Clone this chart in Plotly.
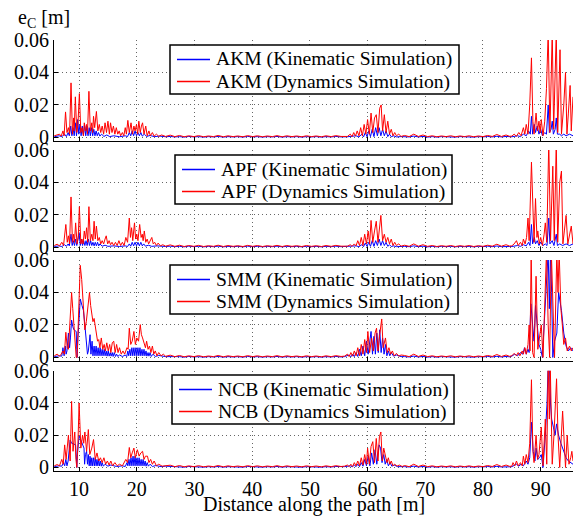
import plotly.graph_objects as go

# ---------------- axes / labels ----------------
X_RANGE = [5.65, 95.6]
Y_RANGE = [-0.0022, 0.06]
X_TICKS = [10, 20, 30, 40, 50, 60, 70, 80, 90]
Y_TICKS = [0, 0.02, 0.04, 0.06]
Y_TICK_TEXT = ["0", "0.02", "0.04", "0.06"]
METHODS = ["AKM", "APF", "SMM", "NCB"]
KIN_LABEL = "(Kinematic Simulation)"
DYN_LABEL = "(Dynamics Simulation)"
X_TITLE = "Distance along the path [m]"
Y_TITLE = "e<sub>C</sub> [m]"

# ---------------- shared quiet stretches (x, kinematic, dynamics) ----------------
QUIET_A_X = [25.8, 26.6, 27.4, 28.2, 29.0, 29.9, 30.7, 31.6, 32.4, 33.3, 34.1, 35.0,
             35.8, 36.7, 37.5, 38.4, 39.2, 40.1, 40.9, 41.8, 42.6, 43.5, 44.3, 45.2,
             46.0, 46.9, 47.7, 48.6, 49.4, 50.3, 51.1, 52.0, 52.8, 53.7, 54.5, 55.4]
QUIET_A_DYN = [0.0014, 0.0005, 0.0012, 0.0004, 0.0010, 0.0005, 0.0011, 0.0004, 0.0009, 0.0005, 0.0012, 0.0004,
               0.0010, 0.0005, 0.0009, 0.0004, 0.0011, 0.0005, 0.0010, 0.0004, 0.0009, 0.0005, 0.0011, 0.0004,
               0.0010, 0.0005, 0.0009, 0.0004, 0.0010, 0.0005, 0.0009, 0.0004, 0.0010, 0.0005, 0.0011, 0.0006]
QUIET_A_KIN = [0.0006, 0.0003, 0.0005, 0.0002, 0.0006, 0.0003, 0.0005, 0.0002, 0.0005, 0.0003, 0.0006, 0.0002,
               0.0005, 0.0003, 0.0005, 0.0002, 0.0006, 0.0003, 0.0005, 0.0002, 0.0005, 0.0003, 0.0006, 0.0002,
               0.0005, 0.0003, 0.0005, 0.0002, 0.0005, 0.0003, 0.0005, 0.0002, 0.0005, 0.0003, 0.0006, 0.0003]
QUIET_B_X = [66.4, 67.2, 68.0, 68.8, 69.6, 70.4, 71.2, 72.0, 72.8, 73.6, 74.4, 75.2,
             76.0, 76.8, 77.6, 78.4, 79.2, 80.0, 80.8, 81.6, 82.4, 83.2, 84.0, 84.6]
QUIET_B_DYN = [0.0012, 0.0005, 0.0020, 0.0006, 0.0015, 0.0005, 0.0010, 0.0004, 0.0009, 0.0005, 0.0010, 0.0004,
               0.0009, 0.0005, 0.0010, 0.0004, 0.0009, 0.0005, 0.0012, 0.0006, 0.0018, 0.0006, 0.0015, 0.0007]
QUIET_B_KIN = [0.0005, 0.0003, 0.0008, 0.0003, 0.0006, 0.0002, 0.0005, 0.0002, 0.0005, 0.0003, 0.0005, 0.0002,
               0.0005, 0.0003, 0.0005, 0.0002, 0.0005, 0.0003, 0.0006, 0.0003, 0.0007, 0.0003, 0.0006, 0.0004]

# ---------------- AKM ----------------
AKM_DYN_LEFT = [(5.7, 0.001), (6.2, 0.0015), (6.6, 0.002), (6.9, 0.0008), (7.2, 0.004), (7.4, 0.001),
    (7.65, 0.0157), (7.9, 0.003), (8.15, 0.006), (8.35, 0.002), (8.6, 0.0336), (8.85, 0.002), (9.05, 0.012),
    (9.15, 0.004), (9.35, 0.025), (9.6, 0.003), (9.8, 0.008), (10.05, 0.027), (10.3, 0.003), (10.5, 0.006),
    (10.75, 0.001), (10.9, 0.009), (11.1, 0.004), (11.3, 0.008), (11.45, 0.002), (11.7, 0.0284), (11.95, 0.004),
    (12.2, 0.009), (12.35, 0.003), (12.5, 0.013), (12.7, 0.006), (13.0, 0.016), (13.25, 0.004), (13.5, 0.008),
    (13.75, 0.003), (14.0, 0.007), (14.25, 0.002), (14.5, 0.009), (14.75, 0.003), (15.0, 0.010), (15.25, 0.002),
    (15.45, 0.009), (15.7, 0.003), (15.95, 0.007), (16.2, 0.002), (16.45, 0.006), (16.7, 0.002), (16.95, 0.004),
    (17.2, 0.001), (17.5, 0.003), (17.75, 0.001), (18.0, 0.006), (18.2, 0.002), (18.45, 0.0105), (18.7, 0.003),
    (19.0, 0.009), (19.25, 0.002), (19.5, 0.007), (19.7, 0.004), (19.95, 0.008), (20.15, 0.002), (20.35, 0.010),
    (20.6, 0.003), (20.8, 0.007), (21.0, 0.009), (21.25, 0.002), (21.55, 0.007), (21.8, 0.001), (22.1, 0.004),
    (22.35, 0.001), (22.7, 0.003), (23.0, 0.0008), (23.4, 0.002), (23.8, 0.0007), (24.3, 0.0015), (25.0, 0.0006)]
AKM_KIN_LEFT = [(5.7, 0.0004), (6.5, 0.001), (7.0, 0.0005), (7.5, 0.002), (7.8, 0.0005), (8.1, 0.003),
    (8.3, 0.001), (8.55, 0.007), (8.75, 0.001), (8.95, 0.006), (9.15, 0.001), (9.35, 0.009), (9.55, 0.001),
    (9.75, 0.011), (9.95, 0.002), (10.15, 0.008), (10.35, 0.001), (10.55, 0.007), (10.75, 0.001), (10.95, 0.008),
    (11.15, 0.001), (11.35, 0.007), (11.55, 0.001), (11.75, 0.006), (11.95, 0.001), (12.15, 0.006), (12.35, 0.001),
    (12.55, 0.005), (12.75, 0.001), (12.95, 0.004), (13.15, 0.001), (13.35, 0.003), (13.6, 0.0008), (13.9, 0.002),
    (14.3, 0.0006), (14.8, 0.0015), (15.3, 0.0005), (16.0, 0.001), (17.0, 0.0004), (18.0, 0.001), (18.4, 0.0005),
    (18.7, 0.003), (18.95, 0.001), (19.2, 0.004), (19.45, 0.001), (19.7, 0.004), (19.95, 0.001), (20.2, 0.003),
    (20.45, 0.001), (20.7, 0.003), (20.95, 0.0008), (21.3, 0.002), (21.7, 0.0006), (22.3, 0.0012), (23.0, 0.0005),
    (24.0, 0.0008), (25.0, 0.0004)]
AKM_DYN_MID = [(56.5, 0.0006), (57.0, 0.002), (57.3, 0.0005), (57.6, 0.003), (57.9, 0.0008), (58.2, 0.004),
    (58.5, 0.001), (58.8, 0.006), (59.1, 0.001), (59.4, 0.008), (59.7, 0.002), (60.0, 0.011), (60.3, 0.002),
    (60.6, 0.015), (60.9, 0.003), (61.2, 0.012), (61.5, 0.014), (61.8, 0.003), (62.1, 0.018), (62.35, 0.020),
    (62.6, 0.004), (62.9, 0.014), (63.2, 0.003), (63.5, 0.010), (63.8, 0.002), (64.1, 0.005), (64.4, 0.001),
    (64.7, 0.003), (65.0, 0.001), (65.4, 0.002), (65.8, 0.0006)]
AKM_KIN_MID = [(56.5, 0.0004), (58.0, 0.001), (58.5, 0.0003), (59.0, 0.002), (59.3, 0.0003), (59.6, 0.003),
    (59.9, 0.0005), (60.2, 0.004), (60.5, 0.0005), (60.8, 0.005), (61.1, 0.0005), (61.4, 0.006), (61.7, 0.001),
    (62.0, 0.006), (62.3, 0.001), (62.6, 0.005), (62.9, 0.001), (63.2, 0.004), (63.5, 0.0005), (63.8, 0.002),
    (64.1, 0.0004), (64.5, 0.001), (65.0, 0.0003), (65.8, 0.0005)]
AKM_DYN_RIGHT = [(85.0, 0.0008), (85.4, 0.002), (85.8, 0.0007), (86.2, 0.003), (86.6, 0.001), (87.0, 0.006),
    (87.25, 0.002), (87.5, 0.008), (87.8, 0.002), (88.1, 0.02), (88.4, 0.049), (88.65, 0.01), (88.85, 0.002),
    (89.2, 0.015), (89.45, 0.004), (89.7, 0.010), (89.9, 0.003), (90.1, 0.011), (90.4, 0.001), (90.7, 0.01),
    (91.0, 0.03), (91.3, 0.065), (91.6, 0.003), (91.8, 0.03), (92.0, 0.065), (92.25, 0.005), (92.45, 0.03),
    (92.7, 0.065), (92.95, 0.003), (93.1, 0.03), (93.35, 0.054), (93.6, 0.002), (94.0, 0.02), (94.3, 0.040),
    (94.55, 0.002), (94.8, 0.015), (95.1, 0.032), (95.3, 0.004), (95.6, 0.025)]
AKM_KIN_RIGHT = [(85.0, 0.0004), (86.0, 0.001), (86.5, 0.0005), (87.0, 0.002), (87.5, 0.001), (87.9, 0.004),
    (88.2, 0.002), (88.4, 0.013), (88.6, 0.002), (88.9, 0.008), (89.1, 0.003), (89.4, 0.007), (89.7, 0.002),
    (90.0, 0.005), (90.3, 0.001), (90.7, 0.003), (91.0, 0.002), (91.3, 0.02), (91.5, 0.003), (91.8, 0.005),
    (92.0, 0.01), (92.2, 0.002), (92.5, 0.005), (92.7, 0.012), (92.9, 0.002), (93.3, 0.002), (93.6, 0.001),
    (94.0, 0.002), (94.4, 0.001), (95.0, 0.002), (95.6, 0.001)]

# ---------------- APF ----------------
APF_DYN_LEFT = [(5.7, 0.001), (6.2, 0.0018), (6.6, 0.0008), (7.0, 0.003), (7.3, 0.001), (7.7, 0.014),
    (7.95, 0.003), (8.15, 0.007), (8.35, 0.002), (8.6, 0.031), (8.85, 0.003), (9.05, 0.008), (9.2, 0.003),
    (9.4, 0.015), (9.65, 0.002), (9.85, 0.006), (10.05, 0.025), (10.3, 0.002), (10.5, 0.005), (10.7, 0.002),
    (10.9, 0.010), (11.1, 0.005), (11.3, 0.012), (11.5, 0.003), (11.7, 0.025), (11.95, 0.004), (12.2, 0.008),
    (12.4, 0.004), (12.6, 0.016), (12.8, 0.005), (13.0, 0.013), (13.25, 0.004), (13.5, 0.006), (13.75, 0.002),
    (14.0, 0.004), (14.25, 0.002), (14.5, 0.005), (14.7, 0.007), (14.95, 0.002), (15.2, 0.004), (15.45, 0.0015),
    (15.7, 0.003), (16.0, 0.001), (16.3, 0.003), (16.6, 0.001), (16.9, 0.004), (17.2, 0.001), (17.5, 0.003),
    (17.8, 0.001), (18.1, 0.006), (18.4, 0.003), (18.7, 0.018), (18.9, 0.006), (19.1, 0.012), (19.3, 0.004),
    (19.6, 0.015), (19.8, 0.005), (20.0, 0.008), (20.2, 0.004), (20.5, 0.014), (20.75, 0.006), (20.95, 0.008),
    (21.1, 0.004), (21.3, 0.010), (21.55, 0.003), (21.8, 0.005), (22.05, 0.002), (22.3, 0.004), (22.6, 0.006),
    (22.85, 0.002), (23.1, 0.003), (23.4, 0.001), (23.7, 0.0025), (24.1, 0.0008), (24.5, 0.0015), (25.0, 0.0006)]
APF_KIN_LEFT = [(5.7, 0.0004), (6.5, 0.0008), (7.0, 0.0004), (7.5, 0.0015), (7.8, 0.0005), (8.1, 0.002),
    (8.3, 0.0008), (8.6, 0.008), (8.8, 0.001), (9.0, 0.004), (9.2, 0.001), (9.4, 0.005), (9.6, 0.001),
    (9.8, 0.006), (10.0, 0.009), (10.2, 0.001), (10.4, 0.005), (10.6, 0.001), (10.8, 0.004), (11.0, 0.001),
    (11.2, 0.004), (11.4, 0.001), (11.6, 0.005), (11.8, 0.001), (12.0, 0.004), (12.2, 0.001), (12.4, 0.003),
    (12.6, 0.0008), (12.8, 0.003), (13.0, 0.0008), (13.2, 0.003), (13.4, 0.0008), (13.6, 0.002), (14.0, 0.0006),
    (14.5, 0.0012), (15.0, 0.0005), (16.0, 0.0008), (17.0, 0.0004), (18.0, 0.0008), (18.4, 0.0004), (18.7, 0.002),
    (18.95, 0.0006), (19.2, 0.003), (19.45, 0.0008), (19.7, 0.003), (19.95, 0.0008), (20.2, 0.003),
    (20.45, 0.0008), (20.7, 0.003), (20.95, 0.0008), (21.2, 0.002), (21.5, 0.0006), (22.0, 0.0012),
    (22.6, 0.0005), (23.5, 0.0008), (25.0, 0.0004)]
APF_DYN_MID = [(56.5, 0.0006), (57.0, 0.0015), (57.3, 0.0005), (57.7, 0.002), (58.0, 0.0008), (58.3, 0.004),
    (58.6, 0.001), (58.9, 0.006), (59.2, 0.001), (59.5, 0.008), (59.8, 0.002), (60.1, 0.010), (60.35, 0.002),
    (60.6, 0.0165), (60.9, 0.003), (61.2, 0.010), (61.5, 0.016), (61.8, 0.003), (62.05, 0.012), (62.3, 0.0196),
    (62.6, 0.004), (62.9, 0.008), (63.2, 0.003), (63.5, 0.006), (63.8, 0.002), (64.1, 0.005), (64.4, 0.001),
    (64.7, 0.003), (65.0, 0.001), (65.4, 0.002), (65.8, 0.0006)]
APF_KIN_MID = [(56.5, 0.0004), (58.0, 0.0008), (58.5, 0.0003), (59.0, 0.0015), (59.3, 0.0003), (59.6, 0.0025),
    (59.9, 0.0005), (60.2, 0.003), (60.5, 0.0005), (60.8, 0.004), (61.1, 0.0005), (61.4, 0.004), (61.7, 0.001),
    (62.0, 0.005), (62.3, 0.001), (62.6, 0.004), (62.9, 0.001), (63.2, 0.003), (63.5, 0.0005), (63.8, 0.0015),
    (64.1, 0.0004), (64.5, 0.0008), (65.0, 0.0003), (65.8, 0.0005)]
APF_DYN_RIGHT = [(85.0, 0.0008), (85.4, 0.002), (85.8, 0.004), (86.1, 0.001), (86.5, 0.003), (86.8, 0.001),
    (87.0, 0.005), (87.3, 0.002), (87.55, 0.006), (87.8, 0.018), (88.0, 0.004), (88.4, 0.0525), (88.7, 0.008),
    (88.85, 0.003), (89.1, 0.03), (89.35, 0.006), (89.5, 0.01), (89.75, 0.002), (90.0, 0.006), (90.3, 0.001),
    (90.6, 0.008), (90.8, 0.015), (91.05, 0.003), (91.4, 0.065), (91.7, 0.004), (91.95, 0.03), (92.1, 0.05),
    (92.35, 0.004), (92.7, 0.065), (92.95, 0.003), (93.3, 0.04), (93.6, 0.047), (93.85, 0.002), (94.1, 0.01),
    (94.4, 0.0196), (94.7, 0.002), (95.0, 0.008), (95.3, 0.013), (95.6, 0.002)]
APF_KIN_RIGHT = [(85.0, 0.0004), (86.0, 0.001), (86.5, 0.0005), (87.0, 0.0015), (87.5, 0.0008), (87.9, 0.003),
    (88.15, 0.001), (88.4, 0.014), (88.6, 0.002), (88.9, 0.006), (89.1, 0.002), (89.4, 0.004), (89.7, 0.001),
    (90.0, 0.003), (90.4, 0.001), (90.8, 0.002), (91.1, 0.001), (91.4, 0.018), (91.6, 0.002), (92.0, 0.004),
    (92.3, 0.001), (92.7, 0.008), (92.9, 0.001), (93.3, 0.002), (93.8, 0.001), (94.4, 0.002), (95.0, 0.001),
    (95.6, 0.002)]

# ---------------- SMM ----------------
SMM_DYN_LEFT = [(5.7, 0.001), (6.2, 0.002), (6.6, 0.0008), (6.9, 0.002), (7.2, 0.004), (7.45, 0.002),
    (7.7, 0.0155), (7.95, 0.006), (8.15, 0.005), (8.4, 0.02), (8.7, 0.040), (8.9, 0.03), (9.1, 0.02),
    (9.3, 0.008), (9.5, 0.0), (9.65, 0.0), (9.85, 0.02), (10.2, 0.0567), (10.45, 0.048), (10.65, 0.035),
    (10.85, 0.022), (11.0, 0.017), (11.25, 0.022), (11.5, 0.032), (11.8, 0.040), (12.0, 0.032), (12.2, 0.025),
    (12.4, 0.022), (12.6, 0.024), (12.8, 0.02), (13.0, 0.014), (13.2, 0.01), (13.4, 0.011), (13.6, 0.006),
    (13.85, 0.012), (14.1, 0.005), (14.35, 0.008), (14.55, 0.004), (14.8, 0.009), (15.05, 0.004), (15.3, 0.008),
    (15.5, 0.003), (15.75, 0.009), (16.0, 0.010), (16.25, 0.003), (16.5, 0.008), (16.75, 0.003), (17.0, 0.006),
    (17.3, 0.002), (17.6, 0.004), (17.9, 0.002), (18.3, 0.006), (18.5, 0.005), (18.7, 0.018), (18.95, 0.008),
    (19.2, 0.010), (19.5, 0.016), (19.75, 0.008), (20.0, 0.012), (20.3, 0.010), (20.6, 0.0202), (20.8, 0.014),
    (21.0, 0.012), (21.25, 0.009), (21.5, 0.006), (21.7, 0.010), (21.95, 0.005), (22.2, 0.007), (22.45, 0.003),
    (22.7, 0.007), (22.95, 0.002), (23.2, 0.004), (23.5, 0.001), (23.8, 0.003), (24.2, 0.001), (24.6, 0.002),
    (25.0, 0.0007)]
SMM_KIN_LEFT = [(5.7, 0.0005), (6.5, 0.001), (7.0, 0.0008), (7.2, 0.006), (7.4, 0.001), (7.6, 0.007),
    (7.75, 0.002), (7.9, 0.004), (8.15, 0.015), (8.35, 0.006), (8.5, 0.012), (8.7, 0.023), (8.9, 0.019),
    (9.1, 0.017), (9.3, 0.0165), (9.5, 0.016), (9.6, 0.005), (9.65, 0.0), (9.8, 0.012), (10.2, 0.036),
    (10.5, 0.032), (10.75, 0.029), (11.0, 0.02), (11.15, 0.012), (11.3, 0.006), (11.45, 0.002), (11.6, 0.004),
    (11.9, 0.014), (12.05, 0.002), (12.25, 0.01), (12.4, 0.001), (12.6, 0.007), (12.75, 0.001), (12.95, 0.007),
    (13.1, 0.001), (13.3, 0.006), (13.45, 0.001), (13.65, 0.006), (13.8, 0.001), (14.0, 0.005), (14.15, 0.001),
    (14.35, 0.005), (14.5, 0.001), (14.7, 0.004), (14.85, 0.0008), (15.05, 0.004), (15.2, 0.0008), (15.4, 0.003),
    (15.55, 0.0008), (15.75, 0.003), (15.9, 0.0006), (16.1, 0.003), (16.3, 0.0006), (16.5, 0.002), (16.7, 0.0006),
    (17.0, 0.0015), (17.5, 0.0006), (18.0, 0.0015), (18.25, 0.0005), (18.45, 0.004), (18.6, 0.001), (18.8, 0.005),
    (18.95, 0.001), (19.15, 0.006), (19.3, 0.001), (19.5, 0.006), (19.65, 0.001), (19.85, 0.006), (20.0, 0.001),
    (20.2, 0.006), (20.35, 0.001), (20.55, 0.006), (20.7, 0.001), (20.9, 0.005), (21.05, 0.001), (21.25, 0.005),
    (21.4, 0.001), (21.6, 0.004), (21.75, 0.0008), (21.95, 0.003), (22.1, 0.0008), (22.3, 0.003), (22.5, 0.0006),
    (22.8, 0.002), (23.2, 0.0006), (23.8, 0.0012), (25.0, 0.0005)]
SMM_DYN_MID = [(56.0, 0.0008), (56.5, 0.002), (56.8, 0.0005), (57.1, 0.003), (57.4, 0.0008), (57.7, 0.004),
    (58.0, 0.001), (58.3, 0.006), (58.6, 0.001), (58.9, 0.008), (59.2, 0.002), (59.5, 0.011), (59.8, 0.003),
    (60.05, 0.016), (60.35, 0.003), (60.7, 0.012), (61.0, 0.004), (61.3, 0.015), (61.55, 0.018), (61.8, 0.004),
    (62.1, 0.014), (62.45, 0.0237), (62.7, 0.006), (62.9, 0.010), (63.1, 0.012), (63.4, 0.003), (63.7, 0.006),
    (64.0, 0.002), (64.3, 0.004), (64.6, 0.001), (65.0, 0.0025), (65.4, 0.0008), (65.8, 0.0015)]
SMM_KIN_MID = [(56.0, 0.0005), (56.8, 0.0015), (57.1, 0.0004), (57.4, 0.002), (57.7, 0.0005), (58.0, 0.003),
    (58.3, 0.0006), (58.6, 0.005), (58.9, 0.001), (59.2, 0.007), (59.5, 0.001), (59.8, 0.010), (60.1, 0.002),
    (60.6, 0.016), (60.85, 0.002), (61.1, 0.013), (61.35, 0.002), (61.6, 0.015), (61.85, 0.003), (62.1, 0.017),
    (62.35, 0.003), (62.6, 0.012), (62.85, 0.002), (63.1, 0.008), (63.35, 0.001), (63.6, 0.004), (63.85, 0.001),
    (64.1, 0.003), (64.5, 0.0008), (65.0, 0.0015), (65.8, 0.0005)]
SMM_DYN_RIGHT = [(85.0, 0.001), (85.4, 0.0025), (85.8, 0.001), (86.1, 0.003), (86.4, 0.001), (86.8, 0.004),
    (87.0, 0.002), (87.25, 0.006), (87.5, 0.002), (87.8, 0.008), (88.0, 0.02), (88.15, 0.004), (88.35, 0.065),
    (88.6, 0.003), (88.85, 0.0), (89.2, 0.05), (89.5, 0.005), (89.8, 0.012), (90.1, 0.02), (90.4, 0.0),
    (90.7, 0.03), (91.0, 0.065), (91.3, 0.02), (91.55, 0.0), (91.85, 0.065), (92.1, 0.03), (92.4, 0.0),
    (92.8, 0.065), (93.0, 0.04), (93.2, 0.065), (93.5, 0.03), (93.75, 0.02), (94.0, 0.008), (94.3, 0.012),
    (94.6, 0.004), (95.0, 0.007), (95.3, 0.004), (95.6, 0.006)]
SMM_KIN_RIGHT = [(85.0, 0.0008), (85.5, 0.002), (86.0, 0.001), (86.5, 0.003), (86.9, 0.002), (87.2, 0.006),
    (87.5, 0.002), (87.8, 0.005), (88.0, 0.003), (88.3, 0.033), (88.6, 0.02), (88.85, 0.01), (89.1, 0.032),
    (89.4, 0.02), (89.7, 0.008), (90.0, 0.005), (90.3, 0.0), (90.6, 0.02), (91.0, 0.05), (91.3, 0.065),
    (91.5, 0.03), (91.7, 0.065), (91.9, 0.04), (92.1, 0.0), (92.4, 0.01), (92.8, 0.015), (93.1, 0.04),
    (93.6, 0.029), (94.0, 0.015), (94.4, 0.007), (94.8, 0.004), (95.2, 0.006), (95.6, 0.004)]

# ---------------- NCB ----------------
NCB_DYN_LEFT = [(5.7, 0.001), (6.2, 0.0018), (6.6, 0.001), (7.0, 0.005), (7.25, 0.002), (7.5, 0.014),
    (7.75, 0.005), (8.15, 0.02), (8.45, 0.004), (8.7, 0.041), (8.95, 0.01), (9.25, 0.022), (9.45, 0.005),
    (9.6, 0.0), (9.8, 0.015), (10.0, 0.040), (10.3, 0.012), (10.6, 0.02), (10.8, 0.015), (11.0, 0.022),
    (11.3, 0.01), (11.6, 0.0235), (11.85, 0.008), (12.2, 0.012), (12.5, 0.0173), (12.8, 0.005), (13.1, 0.009),
    (13.4, 0.004), (13.7, 0.006), (14.0, 0.003), (14.3, 0.006), (14.6, 0.002), (14.9, 0.004), (15.2, 0.0015),
    (15.5, 0.004), (15.8, 0.001), (16.2, 0.003), (16.6, 0.001), (17.0, 0.002), (17.5, 0.001), (18.1, 0.005),
    (18.4, 0.003), (18.7, 0.0124), (18.95, 0.006), (19.2, 0.009), (19.5, 0.012), (19.75, 0.006), (20.1, 0.011),
    (20.4, 0.007), (20.7, 0.009), (21.0, 0.010), (21.25, 0.005), (21.5, 0.007), (21.85, 0.007), (22.1, 0.003),
    (22.4, 0.005), (22.7, 0.002), (23.0, 0.004), (23.4, 0.001), (23.8, 0.002), (24.4, 0.0008), (25.0, 0.0012)]
NCB_KIN_LEFT = [(5.7, 0.0005), (6.5, 0.001), (7.0, 0.0008), (7.3, 0.003), (7.5, 0.001), (7.7, 0.005),
    (7.9, 0.001), (8.1, 0.004), (8.45, 0.017), (8.7, 0.015), (9.1, 0.0145), (9.4, 0.014), (9.55, 0.004),
    (9.6, 0.0), (9.75, 0.01), (10.0, 0.0195), (10.3, 0.017), (10.6, 0.014), (10.85, 0.012), (10.95, 0.002),
    (11.1, 0.008), (11.3, 0.01), (11.45, 0.002), (11.6, 0.008), (11.75, 0.001), (11.9, 0.007), (12.05, 0.001),
    (12.2, 0.006), (12.35, 0.001), (12.5, 0.006), (12.65, 0.001), (12.8, 0.006), (12.95, 0.001), (13.1, 0.005),
    (13.25, 0.001), (13.4, 0.005), (13.55, 0.001), (13.7, 0.004), (13.85, 0.0008), (14.0, 0.003), (14.2, 0.0008),
    (14.5, 0.002), (15.0, 0.0008), (15.5, 0.0015), (16.5, 0.0006), (17.5, 0.001), (18.0, 0.0006), (18.3, 0.003),
    (18.45, 0.001), (18.65, 0.005), (18.8, 0.001), (19.0, 0.006), (19.15, 0.001), (19.35, 0.007), (19.5, 0.001),
    (19.7, 0.007), (19.85, 0.001), (20.05, 0.006), (20.2, 0.001), (20.4, 0.006), (20.55, 0.001), (20.75, 0.005),
    (20.9, 0.001), (21.1, 0.005), (21.25, 0.001), (21.45, 0.004), (21.6, 0.0008), (21.8, 0.003), (22.0, 0.0008),
    (22.3, 0.002), (22.7, 0.0006), (23.3, 0.0012), (24.2, 0.0005), (25.0, 0.0008)]
NCB_DYN_MID = [(56.0, 0.0008), (56.5, 0.0015), (56.8, 0.0005), (57.1, 0.002), (57.4, 0.0006), (57.7, 0.003),
    (58.0, 0.001), (58.3, 0.004), (58.6, 0.001), (58.9, 0.006), (59.2, 0.0015), (59.5, 0.008), (59.8, 0.002),
    (60.0, 0.012), (60.3, 0.002), (60.6, 0.013), (60.9, 0.016), (61.2, 0.003), (61.5, 0.018), (61.8, 0.004),
    (62.05, 0.019), (62.3, 0.022), (62.55, 0.004), (62.8, 0.012), (63.1, 0.008), (63.35, 0.003), (63.6, 0.006),
    (63.85, 0.002), (64.1, 0.004), (64.4, 0.001), (64.7, 0.002), (65.1, 0.0008), (65.5, 0.0015), (66.0, 0.0006)]
NCB_KIN_MID = [(56.0, 0.0005), (57.0, 0.001), (57.4, 0.0004), (57.7, 0.0015), (58.0, 0.0005), (58.3, 0.002),
    (58.6, 0.0005), (58.9, 0.003), (59.2, 0.0008), (59.5, 0.005), (59.8, 0.001), (60.1, 0.007), (60.4, 0.001),
    (60.7, 0.009), (61.0, 0.002), (61.3, 0.011), (61.6, 0.002), (62.0, 0.014), (62.25, 0.012), (62.5, 0.003),
    (62.8, 0.008), (63.05, 0.002), (63.3, 0.005), (63.6, 0.001), (63.9, 0.003), (64.2, 0.0008), (64.6, 0.0015),
    (65.2, 0.0005), (66.0, 0.0008)]
NCB_DYN_RIGHT = [(85.0, 0.0008), (85.2, 0.003), (85.5, 0.001), (85.8, 0.004), (86.1, 0.001), (86.5, 0.003),
    (86.8, 0.001), (87.0, 0.007), (87.25, 0.002), (87.5, 0.008), (87.8, 0.003), (88.1, 0.015), (88.4, 0.0544),
    (88.65, 0.01), (88.85, 0.003), (89.2, 0.02), (89.45, 0.005), (89.7, 0.008), (90.1, 0.025), (90.4, 0.001),
    (90.8, 0.03), (91.05, 0.002), (91.3, 0.065), (91.5, 0.03), (91.65, 0.065), (92.0, 0.002), (92.3, 0.02),
    (92.75, 0.055), (93.0, 0.02), (93.3, 0.0), (93.8, 0.035), (94.1, 0.01), (94.3, 0.0), (94.6, 0.02),
    (94.9, 0.002), (95.2, 0.006), (95.4, 0.01), (95.6, 0.004)]
NCB_KIN_RIGHT = [(85.0, 0.0005), (85.8, 0.002), (86.2, 0.0008), (86.6, 0.002), (87.0, 0.001), (87.5, 0.004),
    (87.8, 0.002), (88.1, 0.006), (88.4, 0.028), (88.7, 0.01), (89.0, 0.004), (89.2, 0.012), (89.5, 0.005),
    (89.8, 0.006), (90.1, 0.008), (90.4, 0.0), (90.8, 0.02), (91.1, 0.04), (91.3, 0.065), (91.5, 0.065),
    (91.7, 0.04), (91.9, 0.03), (92.2, 0.025), (92.5, 0.02), (92.75, 0.027), (93.1, 0.02), (93.5, 0.015),
    (93.8, 0.012), (94.1, 0.01), (94.4, 0.006), (94.8, 0.004), (95.2, 0.003), (95.6, 0.002)]

SEGMENTS = {
    "AKM": (AKM_KIN_LEFT, AKM_KIN_MID, AKM_KIN_RIGHT, AKM_DYN_LEFT, AKM_DYN_MID, AKM_DYN_RIGHT),
    "APF": (APF_KIN_LEFT, APF_KIN_MID, APF_KIN_RIGHT, APF_DYN_LEFT, APF_DYN_MID, APF_DYN_RIGHT),
    "SMM": (SMM_KIN_LEFT, SMM_KIN_MID, SMM_KIN_RIGHT, SMM_DYN_LEFT, SMM_DYN_MID, SMM_DYN_RIGHT),
    "NCB": (NCB_KIN_LEFT, NCB_KIN_MID, NCB_KIN_RIGHT, NCB_DYN_LEFT, NCB_DYN_MID, NCB_DYN_RIGHT),
}


def assemble(left, mid, right, qa_y, qb_y):
    xs = [p[0] for p in left] + QUIET_A_X + [p[0] for p in mid] + QUIET_B_X + [p[0] for p in right]
    ys = [p[1] for p in left] + qa_y + [p[1] for p in mid] + qb_y + [p[1] for p in right]
    return xs, ys


# ---------------- layout geometry (pixels of the 577x518 canvas) ----------------
W, H = 577, 518
ML, MR, MT, MB = 54, 4, 40, 47
PW, PH = W - ML - MR, H - MT - MB
DOMAINS = [[0.7657, 1.0], [0.5111, 0.7448], [0.2552, 0.4896], [0.0, 0.2327]]
# legend boxes: left, top, right, bottom (px)
LEGEND_BOXES = [(170, 45, 459, 94), (175, 155, 452, 204), (170, 265, 458, 314), (172, 375, 454, 424)]
FONT = "Liberation Serif"
RED = "#ff0000"
BLUE = "#0000ff"


def px(xp):
    return (xp - ML) / PW


def py(yp):
    return (H - MB - yp) / PH


fig = go.Figure()
layout = dict(
    width=W, height=H,
    margin=dict(l=ML, r=MR, t=MT, b=MB, autoexpand=False),
    paper_bgcolor="white", plot_bgcolor="white",
    font=dict(family=FONT, size=20, color="black"),
    showlegend=False,
)

shapes = []
annotations = []
for i, m in enumerate(METHODS):
    k = i + 1
    kl, km, kr, dl, dm, dr = SEGMENTS[m]
    kx, ky = assemble(kl, km, kr, QUIET_A_KIN, QUIET_B_KIN)
    dx, dy = assemble(dl, dm, dr, QUIET_A_DYN, QUIET_B_DYN)
    xa = "x" if k == 1 else f"x{k}"
    ya = "y" if k == 1 else f"y{k}"
    fig.add_trace(go.Scatter(x=kx, y=ky, mode="lines", name=f"{m} {KIN_LABEL}",
                             line=dict(color=BLUE, width=1), xaxis=xa, yaxis=ya))
    fig.add_trace(go.Scatter(x=dx, y=dy, mode="lines", name=f"{m} {DYN_LABEL}",
                             line=dict(color=RED, width=1), xaxis=xa, yaxis=ya))
    xkey = "xaxis" if k == 1 else f"xaxis{k}"
    ykey = "yaxis" if k == 1 else f"yaxis{k}"
    layout[xkey] = dict(
        domain=[0, 1], anchor=ya, range=X_RANGE, tickvals=X_TICKS,
        showticklabels=(k == 4), ticks="inside", ticklen=4, tickcolor="black",
        showline=True, linecolor="black", linewidth=1.2, mirror=False,
        showgrid=True, gridcolor="#666666", griddash="1px,3px", gridwidth=1,
        zeroline=False, tickfont=dict(family=FONT, size=20, color="black"), automargin=False,
    )
    layout[ykey] = dict(
        domain=DOMAINS[i], anchor=xa, range=Y_RANGE, tickvals=Y_TICKS, ticktext=Y_TICK_TEXT,
        ticks="inside", ticklen=4, tickcolor="black",
        showline=True, linecolor="black", linewidth=1.2,
        showgrid=True, gridcolor="#666666", griddash="1px,3px", gridwidth=1,
        zeroline=False, tickfont=dict(family=FONT, size=20, color="black"), automargin=False,
    )
    # legend drawn as box + sample lines + text
    l, t, r, b = LEGEND_BOXES[i]
    shapes.append(dict(type="rect", xref="paper", yref="paper", x0=px(l), x1=px(r), y0=py(b), y1=py(t),
                       line=dict(color="black", width=1.5), fillcolor="white", layer="above"))
    row1 = t + 14.5
    row2 = t + 36.5
    for row, col, lab in ((row1, BLUE, KIN_LABEL), (row2, RED, DYN_LABEL)):
        shapes.append(dict(type="line", xref="paper", yref="paper", x0=px(l + 7), x1=px(l + 40),
                           y0=py(row), y1=py(row), line=dict(color=col, width=1.3), layer="above"))
        annotations.append(dict(text=f"{m} {lab}", xref="paper", yref="paper", x=px(l + 44), y=py(row),
                                xanchor="left", yanchor="middle", showarrow=False,
                                font=dict(family=FONT, size=19.6, color="black")))

annotations.append(dict(text=Y_TITLE, xref="paper", yref="paper", x=px(16), y=py(19),
                        xanchor="left", yanchor="middle", showarrow=False,
                        font=dict(family=FONT, size=20, color="black")))
annotations.append(dict(text=X_TITLE, xref="paper", yref="paper", x=0.5, y=py(505),
                        xanchor="center", yanchor="middle", showarrow=False,
                        font=dict(family=FONT, size=20, color="black")))
layout["shapes"] = shapes
layout["annotations"] = annotations
fig.update_layout(**layout)

fig.write_html("out.html", config={"displayModeBar": False},
               post_script="document.body.style.margin='0px';document.body.style.overflow='hidden';")
